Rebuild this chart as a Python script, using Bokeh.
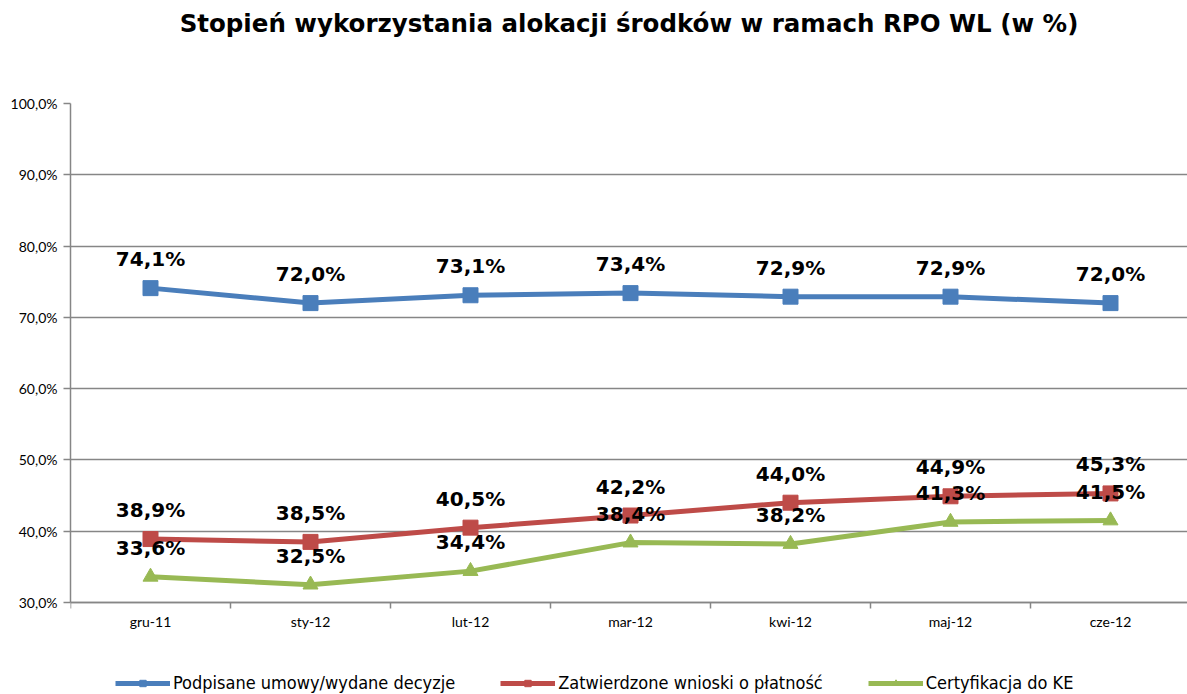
from bokeh.plotting import figure
from bokeh.models import (ColumnDataSource, Range1d, FixedTicker, Legend, LegendItem, Title)
from bokeh.core.properties import value
from bokeh.embed import file_html
from bokeh.resources import INLINE

categories = ["gru-11", "sty-12", "lut-12", "mar-12", "kwi-12", "maj-12", "cze-12"]
podpisane = [74.1, 72.0, 73.1, 73.4, 72.9, 72.9, 72.0]
zatwierdzone = [38.9, 38.5, 40.5, 42.2, 44.0, 44.9, 45.3]
certyfikacja = [33.6, 32.5, 34.4, 38.4, 38.2, 41.3, 41.5]
series_names = ["Podpisane umowy/wydane decyzje", "Zatwierdzone wnioski o płatność", "Certyfikacja do KE"]
y_ticks = [30, 40, 50, 60, 70, 80, 90, 100]

colors = ["#4A7EBB", "#BE4B48", "#98B954"]
markers = ["square", "square", "triangle"]

W, H = 1187, 694
# frame runs to the bottom edge so that the legend (inside the frame) is not clipped;
# the value axis is shown only from 30 to 100 and the category axis sits at 30
p = figure(width=W, height=H, output_backend="svg", toolbar_location=None, title=None,
           x_range=Range1d(-0.5, 6.48125), y_range=Range1d(17.094, 100),
           min_border_left=70, min_border_right=0, min_border_top=103, min_border_bottom=0)
p.outline_line_color = None
p.background_fill_color = "white"

# spacer between frame and title, then the title (outer)
p.add_layout(Title(text=" ", text_font_size="12px", standoff=41), "above")
p.add_layout(Title(text="Stopień wykorzystania alokacji środków w ramach RPO WL (w %)",
                   align="center", vertical_align="top", text_font="DejaVu Sans",
                   text_font_size="24.5px", text_font_style="bold", text_color="black",
                   standoff=14, offset=-35), "above")

xs = list(range(len(categories)))

# axes
xa = p.xaxis[0]
xa.fixed_location = 30
xa.ticker = FixedTicker(ticks=xs, minor_ticks=[i - 0.5 for i in range(len(categories) + 1)])
xa.major_label_overrides = {i: c for i, c in enumerate(categories)}
xa.major_tick_line_color = None
xa.major_tick_out = 0
xa.major_tick_in = 0
xa.minor_tick_line_color = "#868686"
xa.minor_tick_line_width = 1.5
xa.minor_tick_out = 6
xa.minor_tick_in = 0
xa.axis_line_color = "#868686"
xa.axis_line_width = 1.5
xa.major_label_standoff = 5
xa.major_label_text_font = "Lato"
xa.major_label_text_font_size = "14px"
xa.major_label_text_color = "black"

ya = p.yaxis[0]
ya.bounds = (30, 100)
ya.ticker = FixedTicker(ticks=y_ticks)
ya.major_label_overrides = {t: f"{t:.1f}%".replace(".", ",") for t in y_ticks}
ya.major_tick_line_color = "#868686"
ya.major_tick_line_width = 1.5
ya.major_tick_out = 7
ya.major_tick_in = 0
ya.minor_tick_line_color = None
ya.axis_line_color = "#868686"
ya.axis_line_width = 1.5
ya.major_label_standoff = 6
ya.major_label_text_font = "Lato"
ya.major_label_text_font_size = "14px"
ya.major_label_text_color = "black"

p.xgrid.grid_line_color = None
p.ygrid.grid_line_color = "#868686"
p.ygrid.grid_line_width = 1.5

items = []
for name, vals, col, mk in zip(series_names, [podpisane, zatwierdzone, certyfikacja], colors, markers):
    src = ColumnDataSource(dict(x=xs, y=vals, lbl=[f"{v:.1f}%".replace(".", ",") for v in vals]))
    ln = p.line("x", "y", source=src, line_color=col, line_width=5)
    sc = p.scatter("x", "y", source=src, marker=mk, size=15, fill_color=col, line_color=col)
    p.text("x", "y", text="lbl", source=src, text_font=value("DejaVu Sans"), text_font_style="bold",
           text_font_size="20px", text_align="center", text_baseline="middle", y_offset=-29,
           text_color="black")
    items.append(LegendItem(label=name, renderers=[ln, sc]))

legend = Legend(items=items, orientation="horizontal", location=(45, 1),
                label_text_font="DejaVu Sans Condensed", label_text_font_size="18px",
                label_text_color="black", label_height=18,
                glyph_width=55, glyph_height=16, spacing=45, padding=0, margin=0,
                border_line_color=None, background_fill_alpha=0, label_standoff=3)
p.add_layout(legend)

open("out.html", "w").write(file_html(p, INLINE))
